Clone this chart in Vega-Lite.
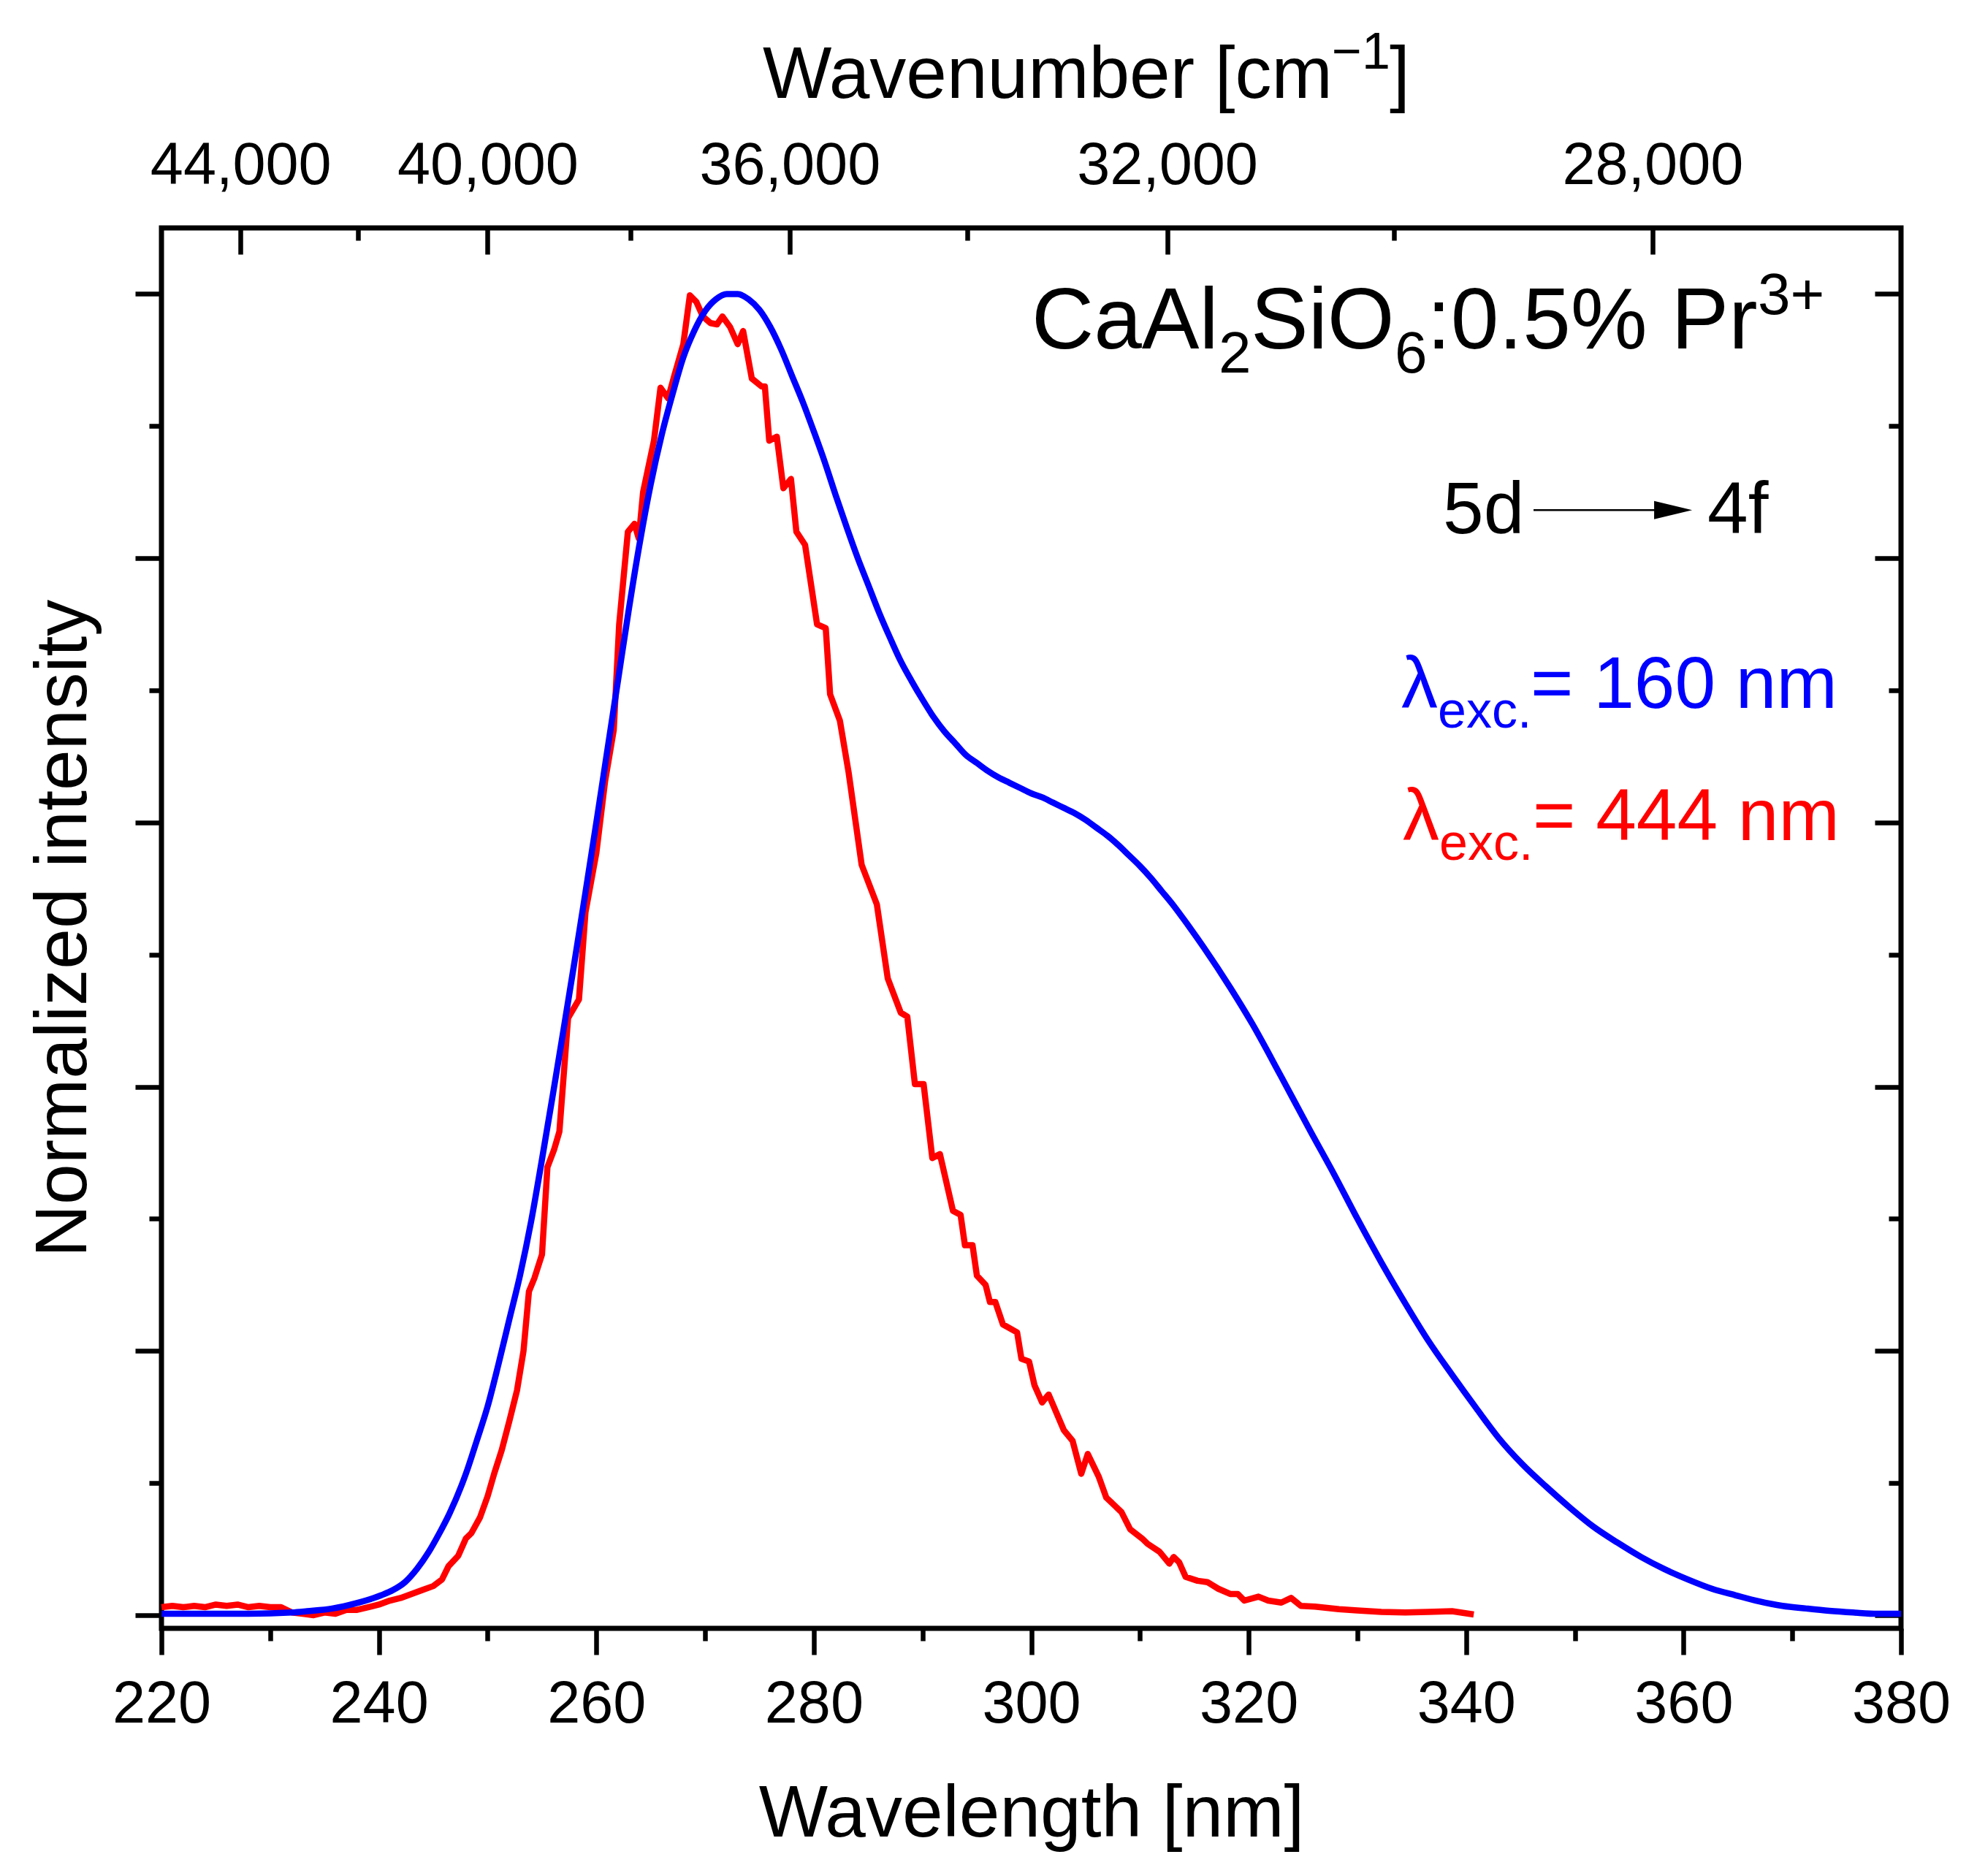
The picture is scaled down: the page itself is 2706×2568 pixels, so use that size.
{
  "$schema": "https://vega.github.io/schema/vega-lite/v6.json",
  "width": 2381,
  "height": 1917,
  "autosize": {"type": "none"},
  "padding": {"left": 221, "top": 312, "right": 104, "bottom": 339},
  "background": "white",
  "datasets": {
    "exc444": [
      {"nm": 220, "I": 0.006}, {"nm": 221, "I": 0.007}, {"nm": 222, "I": 0.006}, {"nm": 223, "I": 0.007},
      {"nm": 224, "I": 0.006}, {"nm": 225, "I": 0.008}, {"nm": 226, "I": 0.007}, {"nm": 227, "I": 0.008},
      {"nm": 228, "I": 0.006}, {"nm": 229, "I": 0.007}, {"nm": 230, "I": 0.006}, {"nm": 231, "I": 0.006},
      {"nm": 232, "I": 0.002}, {"nm": 233, "I": 0.001}, {"nm": 234, "I": 0.0}, {"nm": 235, "I": 0.002},
      {"nm": 236, "I": 0.001}, {"nm": 237, "I": 0.004}, {"nm": 238, "I": 0.004}, {"nm": 239, "I": 0.006},
      {"nm": 240, "I": 0.008}, {"nm": 241, "I": 0.011}, {"nm": 242, "I": 0.013}, {"nm": 243, "I": 0.016},
      {"nm": 244, "I": 0.019}, {"nm": 245, "I": 0.022}, {"nm": 245.8, "I": 0.027}, {"nm": 246.4, "I": 0.037},
      {"nm": 247.3, "I": 0.045}, {"nm": 248, "I": 0.058}, {"nm": 248.5, "I": 0.062}, {"nm": 249.3, "I": 0.074},
      {"nm": 250, "I": 0.09}, {"nm": 250.6, "I": 0.107}, {"nm": 251.3, "I": 0.125}, {"nm": 252, "I": 0.147},
      {"nm": 252.7, "I": 0.17}, {"nm": 253.3, "I": 0.2}, {"nm": 253.8, "I": 0.245}, {"nm": 254.3, "I": 0.255},
      {"nm": 255, "I": 0.273}, {"nm": 255.5, "I": 0.339}, {"nm": 256.1, "I": 0.352}, {"nm": 256.6, "I": 0.366},
      {"nm": 257.4, "I": 0.452}, {"nm": 258.4, "I": 0.466}, {"nm": 259, "I": 0.532}, {"nm": 260, "I": 0.577},
      {"nm": 260.8, "I": 0.631}, {"nm": 261.6, "I": 0.67}, {"nm": 262.1, "I": 0.75}, {"nm": 262.9, "I": 0.82},
      {"nm": 263.5, "I": 0.826}, {"nm": 263.9, "I": 0.815}, {"nm": 264.3, "I": 0.85}, {"nm": 265.3, "I": 0.889},
      {"nm": 265.9, "I": 0.929}, {"nm": 266.6, "I": 0.921}, {"nm": 267.2, "I": 0.939}, {"nm": 268, "I": 0.962},
      {"nm": 268.6, "I": 0.999}, {"nm": 269.2, "I": 0.994}, {"nm": 269.8, "I": 0.983}, {"nm": 270.5, "I": 0.978},
      {"nm": 271.1, "I": 0.977}, {"nm": 271.6, "I": 0.983}, {"nm": 272.3, "I": 0.975}, {"nm": 273, "I": 0.962},
      {"nm": 273.5, "I": 0.972}, {"nm": 274.3, "I": 0.936}, {"nm": 275.2, "I": 0.93}, {"nm": 275.5, "I": 0.93},
      {"nm": 275.9, "I": 0.889}, {"nm": 276.6, "I": 0.892}, {"nm": 277.2, "I": 0.853}, {"nm": 277.9, "I": 0.86},
      {"nm": 278.4, "I": 0.82}, {"nm": 279.2, "I": 0.81}, {"nm": 280.3, "I": 0.75}, {"nm": 281.1, "I": 0.747},
      {"nm": 281.5, "I": 0.697}, {"nm": 282.4, "I": 0.677}, {"nm": 283.2, "I": 0.638}, {"nm": 284.4, "I": 0.568},
      {"nm": 285.8, "I": 0.538}, {"nm": 286.8, "I": 0.482}, {"nm": 288.0, "I": 0.456}, {"nm": 288.6, "I": 0.453},
      {"nm": 289.3, "I": 0.402}, {"nm": 290.1, "I": 0.402}, {"nm": 290.9, "I": 0.346}, {"nm": 291.6, "I": 0.349},
      {"nm": 292.8, "I": 0.306}, {"nm": 293.5, "I": 0.303}, {"nm": 293.9, "I": 0.28}, {"nm": 294.6, "I": 0.28},
      {"nm": 295.0, "I": 0.257}, {"nm": 295.8, "I": 0.25}, {"nm": 296.2, "I": 0.237}, {"nm": 296.7, "I": 0.237},
      {"nm": 297.4, "I": 0.22}, {"nm": 298.7, "I": 0.214}, {"nm": 299.1, "I": 0.194}, {"nm": 299.8, "I": 0.192},
      {"nm": 300.3, "I": 0.174}, {"nm": 301.0, "I": 0.161}, {"nm": 301.6, "I": 0.167}, {"nm": 303.0, "I": 0.14},
      {"nm": 303.8, "I": 0.132}, {"nm": 304.6, "I": 0.107}, {"nm": 305.2, "I": 0.122}, {"nm": 306.2, "I": 0.105},
      {"nm": 306.9, "I": 0.089}, {"nm": 308.3, "I": 0.078}, {"nm": 309.1, "I": 0.065}, {"nm": 310.2, "I": 0.058},
      {"nm": 310.7, "I": 0.054}, {"nm": 311.8, "I": 0.048}, {"nm": 312.7, "I": 0.039}, {"nm": 313.1, "I": 0.044},
      {"nm": 313.6, "I": 0.04}, {"nm": 314.2, "I": 0.029}, {"nm": 315.3, "I": 0.026}, {"nm": 316.2, "I": 0.025},
      {"nm": 317.2, "I": 0.02}, {"nm": 318.3, "I": 0.016}, {"nm": 319.0, "I": 0.016}, {"nm": 319.6, "I": 0.011},
      {"nm": 320.9, "I": 0.014}, {"nm": 321.8, "I": 0.011}, {"nm": 323.0, "I": 0.0095}, {"nm": 323.9, "I": 0.013},
      {"nm": 324.8, "I": 0.007}, {"nm": 326.1, "I": 0.0065}, {"nm": 328.3, "I": 0.0045}, {"nm": 330, "I": 0.0035},
      {"nm": 332.2, "I": 0.0025}, {"nm": 334.4, "I": 0.002}, {"nm": 336.5, "I": 0.0025}, {"nm": 338.7, "I": 0.003},
      {"nm": 340.7, "I": 0.0005}
    ],
    "exc160": [
      {"nm": 220, "I": 0.001}, {"nm": 224, "I": 0.001}, {"nm": 228, "I": 0.001}, {"nm": 232, "I": 0.002},
      {"nm": 233.4, "I": 0.003}, {"nm": 235.7, "I": 0.005}, {"nm": 237.9, "I": 0.009}, {"nm": 240.2, "I": 0.015},
      {"nm": 241.3, "I": 0.019}, {"nm": 242.4, "I": 0.025}, {"nm": 243.5, "I": 0.035}, {"nm": 244.6, "I": 0.048},
      {"nm": 245.5, "I": 0.061}, {"nm": 246.5, "I": 0.077}, {"nm": 248, "I": 0.107}, {"nm": 249, "I": 0.132},
      {"nm": 250, "I": 0.158}, {"nm": 251, "I": 0.19}, {"nm": 252, "I": 0.224}, {"nm": 253, "I": 0.258},
      {"nm": 254, "I": 0.298}, {"nm": 255, "I": 0.345}, {"nm": 256, "I": 0.394}, {"nm": 257, "I": 0.444},
      {"nm": 258, "I": 0.495}, {"nm": 259, "I": 0.547}, {"nm": 260, "I": 0.6}, {"nm": 261, "I": 0.654},
      {"nm": 262, "I": 0.708}, {"nm": 263, "I": 0.762}, {"nm": 264, "I": 0.812}, {"nm": 265, "I": 0.856},
      {"nm": 266, "I": 0.893}, {"nm": 267, "I": 0.924}, {"nm": 268, "I": 0.952}, {"nm": 269, "I": 0.972},
      {"nm": 270, "I": 0.987}, {"nm": 271, "I": 0.996}, {"nm": 272, "I": 1.0}, {"nm": 273, "I": 1.0},
      {"nm": 274, "I": 0.996}, {"nm": 275, "I": 0.988}, {"nm": 276, "I": 0.975}, {"nm": 277, "I": 0.958},
      {"nm": 278, "I": 0.938}, {"nm": 279, "I": 0.918}, {"nm": 280, "I": 0.896}, {"nm": 281, "I": 0.873},
      {"nm": 282, "I": 0.848}, {"nm": 283, "I": 0.824}, {"nm": 284, "I": 0.801}, {"nm": 285, "I": 0.78},
      {"nm": 286, "I": 0.759}, {"nm": 287, "I": 0.74}, {"nm": 288, "I": 0.722}, {"nm": 289, "I": 0.707},
      {"nm": 290, "I": 0.693}, {"nm": 291, "I": 0.68}, {"nm": 292, "I": 0.669}, {"nm": 293, "I": 0.66},
      {"nm": 294, "I": 0.651}, {"nm": 295, "I": 0.645}, {"nm": 296, "I": 0.639}, {"nm": 297, "I": 0.634},
      {"nm": 298, "I": 0.63}, {"nm": 299, "I": 0.626}, {"nm": 300, "I": 0.622}, {"nm": 301, "I": 0.619},
      {"nm": 302, "I": 0.615}, {"nm": 303, "I": 0.611}, {"nm": 304, "I": 0.607}, {"nm": 305, "I": 0.602},
      {"nm": 306, "I": 0.596}, {"nm": 307, "I": 0.59}, {"nm": 308, "I": 0.583}, {"nm": 309, "I": 0.575},
      {"nm": 310, "I": 0.567}, {"nm": 311, "I": 0.558}, {"nm": 312, "I": 0.548}, {"nm": 313, "I": 0.538},
      {"nm": 314, "I": 0.527}, {"nm": 315.9, "I": 0.505}, {"nm": 318.3, "I": 0.475}, {"nm": 320.3, "I": 0.448},
      {"nm": 322.9, "I": 0.409},
      {"nm": 325.7, "I": 0.366}, {"nm": 327.9, "I": 0.333}, {"nm": 330, "I": 0.3}, {"nm": 332.2, "I": 0.267},
      {"nm": 334.4, "I": 0.236}, {"nm": 336.5, "I": 0.208}, {"nm": 338.7, "I": 0.182}, {"nm": 340.9, "I": 0.157},
      {"nm": 343, "I": 0.134}, {"nm": 345.2, "I": 0.114}, {"nm": 347.4, "I": 0.097}, {"nm": 349.6, "I": 0.081},
      {"nm": 351.7, "I": 0.067}, {"nm": 353.9, "I": 0.055}, {"nm": 356.1, "I": 0.044}, {"nm": 358.2, "I": 0.035},
      {"nm": 360.4, "I": 0.027}, {"nm": 362.6, "I": 0.02}, {"nm": 364.8, "I": 0.015}, {"nm": 366.9, "I": 0.0105},
      {"nm": 369.1, "I": 0.007}, {"nm": 371.3, "I": 0.005}, {"nm": 373.4, "I": 0.0033}, {"nm": 375.6, "I": 0.002},
      {"nm": 377.8, "I": 0.001}, {"nm": 380, "I": 0.001}
    ]
  },
  "resolve": {"axis": {"x": "independent", "y": "independent"}},
  "layer": [
    {
      "data": {"name": "exc444"},
      "mark": {"type": "line", "color": "#ff0000", "strokeWidth": 8.5, "strokeJoin": "round"},
      "encoding": {
        "x": {
          "field": "nm", "type": "quantitative",
          "scale": {"domain": [220, 380], "nice": false, "zero": false},
          "axis": {
            "orient": "bottom",
            "values": [220, 230, 240, 250, 260, 270, 280, 290, 300, 310, 320, 330, 340, 350, 360, 370, 380],
            "labelExpr": "datum.value % 20 === 0 ? datum.label : ''",
            "tickSize": {"condition": {"test": "datum.value % 20 === 0", "value": 36}, "value": 17},
            "labelPadding": 28,
            "labelFlush": false, "labelOverlap": false, "labelBound": false, "labelLimit": 1000,
            "title": "Wavelength [nm]",
            "titleX": 1190.5, "titleY": 284, "titleBaseline": "alphabetic", "titleAlign": "center"
          }
        },
        "y": {
          "field": "I", "type": "quantitative",
          "scale": {"domain": [-0.01, 1.05], "nice": false, "zero": false},
          "axis": {
            "orient": "left",
            "values": [0, 0.1, 0.2, 0.3, 0.4, 0.5, 0.6, 0.7, 0.8, 0.9, 1.0],
            "labels": false,
            "tickSize": {"condition": {"test": "round(datum.value * 10) % 2 === 0", "value": 36}, "value": 17},
            "title": "Normalized intensity",
            "titleX": -104, "titleY": 958.5, "titleAngle": -90, "titleBaseline": "alphabetic", "titleAlign": "center"
          }
        }
      }
    },
    {
      "data": {"name": "exc160"},
      "mark": {"type": "line", "color": "#0000ff", "strokeWidth": 8.5, "strokeJoin": "round", "interpolate": "monotone"},
      "encoding": {
        "x": {
          "field": "nm", "type": "quantitative",
          "axis": {
            "orient": "top",
            "values": [227.2727, 238.0952, 250, 263.1579, 277.7778, 294.1176, 312.5, 333.3333, 357.1429],
            "labelExpr": "round(1e7 / datum.value / 1000) % 4 === 0 ? format(round(1e7 / datum.value / 1000) * 1000, ',') : ''",
            "tickSize": {"condition": {"test": "round(1e7 / datum.value / 1000) % 4 === 0", "value": -36}, "value": -17},
            "labelPadding": 80,
            "labelFlush": false, "labelOverlap": false, "labelBound": false, "labelLimit": 1000,
            "title": null
          }
        },
        "y": {
          "field": "I", "type": "quantitative",
          "axis": {
            "orient": "right",
            "values": [0, 0.1, 0.2, 0.3, 0.4, 0.5, 0.6, 0.7, 0.8, 0.9, 1.0],
            "labels": false,
            "tickSize": {"condition": {"test": "round(datum.value * 10) % 2 === 0", "value": -36}, "value": -17},
            "title": null
          }
        }
      }
    },
    {
      "data": {"values": [{}]},
      "mark": {"type": "text", "text": "Wavenumber [cm", "fontSize": 100, "align": "left", "baseline": "alphabetic", "color": "black"},
      "encoding": {"x": {"datum": 275.306, "type": "quantitative", "axis": null}, "y": {"datum": 1.1487, "type": "quantitative", "axis": null}}
    },
    {
      "data": {"values": [{}]},
      "mark": {"type": "text", "text": "−1", "fontSize": 70, "align": "left", "baseline": "alphabetic", "dx": 779, "dy": -40, "color": "black"},
      "encoding": {"x": {"datum": 275.306, "type": "quantitative", "axis": null}, "y": {"datum": 1.1487, "type": "quantitative", "axis": null}}
    },
    {
      "data": {"values": [{}]},
      "mark": {"type": "text", "text": "]", "fontSize": 100, "align": "left", "baseline": "alphabetic", "dx": 858, "color": "black"},
      "encoding": {"x": {"datum": 275.306, "type": "quantitative", "axis": null}, "y": {"datum": 1.1487, "type": "quantitative", "axis": null}}
    },
    {
      "data": {"values": [{}]},
      "mark": {"type": "text", "text": "CaAl", "fontSize": 118, "align": "left", "baseline": "alphabetic", "color": "black"},
      "encoding": {"x": {"datum": 300.03, "type": "quantitative", "axis": null}, "y": {"datum": 0.9585, "type": "quantitative", "axis": null}}
    },
    {
      "data": {"values": [{}]},
      "mark": {"type": "text", "text": "2", "fontSize": 80, "align": "left", "baseline": "alphabetic", "dx": 256, "dy": 33, "color": "black"},
      "encoding": {"x": {"datum": 300.03, "type": "quantitative", "axis": null}, "y": {"datum": 0.9585, "type": "quantitative", "axis": null}}
    },
    {
      "data": {"values": [{}]},
      "mark": {"type": "text", "text": "SiO", "fontSize": 118, "align": "left", "baseline": "alphabetic", "dx": 300, "color": "black"},
      "encoding": {"x": {"datum": 300.03, "type": "quantitative", "axis": null}, "y": {"datum": 0.9585, "type": "quantitative", "axis": null}}
    },
    {
      "data": {"values": [{}]},
      "mark": {"type": "text", "text": "6", "fontSize": 80, "align": "left", "baseline": "alphabetic", "dx": 497, "dy": 33, "color": "black"},
      "encoding": {"x": {"datum": 300.03, "type": "quantitative", "axis": null}, "y": {"datum": 0.9585, "type": "quantitative", "axis": null}}
    },
    {
      "data": {"values": [{}]},
      "mark": {"type": "text", "text": ":0.5% Pr", "fontSize": 118, "align": "left", "baseline": "alphabetic", "dx": 541, "color": "black"},
      "encoding": {"x": {"datum": 300.03, "type": "quantitative", "axis": null}, "y": {"datum": 0.9585, "type": "quantitative", "axis": null}}
    },
    {
      "data": {"values": [{}]},
      "mark": {"type": "text", "text": "3+", "fontSize": 80, "align": "left", "baseline": "alphabetic", "dx": 994, "dy": -47, "color": "black"},
      "encoding": {"x": {"datum": 300.03, "type": "quantitative", "axis": null}, "y": {"datum": 0.9585, "type": "quantitative", "axis": null}}
    },
    {
      "data": {"values": [{}]},
      "mark": {"type": "text", "text": "5d", "fontSize": 100, "align": "left", "baseline": "alphabetic", "color": "black"},
      "encoding": {"x": {"datum": 337.87, "type": "quantitative", "axis": null}, "y": {"datum": 0.8187, "type": "quantitative", "axis": null}}
    },
    {
      "data": {"values": [{}]},
      "mark": {"type": "text", "text": "4f", "fontSize": 100, "align": "left", "baseline": "alphabetic", "dx": 362, "color": "black"},
      "encoding": {"x": {"datum": 337.87, "type": "quantitative", "axis": null}, "y": {"datum": 0.8187, "type": "quantitative", "axis": null}}
    },
    {
      "data": {"values": [{}]},
      "mark": {"type": "rule", "color": "black", "strokeWidth": 2.5},
      "encoding": {
        "x": {"datum": 346.2, "type": "quantitative", "axis": null},
        "x2": {"datum": 357.69},
        "y": {"datum": 0.8364, "type": "quantitative", "axis": null}
      }
    },
    {
      "data": {"values": [{}]},
      "mark": {"type": "point", "shape": "M -1 -0.48 L 1 0 L -1 0.48 Z", "size": 2704, "filled": true, "color": "black", "opacity": 1, "strokeWidth": 0},
      "encoding": {"x": {"datum": 359.04, "type": "quantitative", "axis": null}, "y": {"datum": 0.8364, "type": "quantitative", "axis": null}}
    },
    {
      "data": {"values": [{}]},
      "mark": {"type": "text", "text": "λ", "fontSize": 100, "align": "left", "baseline": "alphabetic", "color": "#0000ff"},
      "encoding": {"x": {"datum": 334.04, "type": "quantitative", "axis": null}, "y": {"datum": 0.6866, "type": "quantitative", "axis": null}}
    },
    {
      "data": {"values": [{}]},
      "mark": {"type": "text", "text": "exc.", "fontSize": 70, "align": "left", "baseline": "alphabetic", "dx": 50, "dy": 27, "color": "#0000ff"},
      "encoding": {"x": {"datum": 334.04, "type": "quantitative", "axis": null}, "y": {"datum": 0.6866, "type": "quantitative", "axis": null}}
    },
    {
      "data": {"values": [{}]},
      "mark": {"type": "text", "text": "= 160 nm", "fontSize": 100, "align": "left", "baseline": "alphabetic", "dx": 177, "color": "#0000ff"},
      "encoding": {"x": {"datum": 334.04, "type": "quantitative", "axis": null}, "y": {"datum": 0.6866, "type": "quantitative", "axis": null}}
    },
    {
      "data": {"values": [{}]},
      "mark": {"type": "text", "text": "λ", "fontSize": 100, "align": "left", "baseline": "alphabetic", "color": "#ff0000"},
      "encoding": {"x": {"datum": 334.17, "type": "quantitative", "axis": null}, "y": {"datum": 0.5865, "type": "quantitative", "axis": null}}
    },
    {
      "data": {"values": [{}]},
      "mark": {"type": "text", "text": "exc.", "fontSize": 70, "align": "left", "baseline": "alphabetic", "dx": 50, "dy": 27, "color": "#ff0000"},
      "encoding": {"x": {"datum": 334.17, "type": "quantitative", "axis": null}, "y": {"datum": 0.5865, "type": "quantitative", "axis": null}}
    },
    {
      "data": {"values": [{}]},
      "mark": {"type": "text", "text": "= 444 nm", "fontSize": 100, "align": "left", "baseline": "alphabetic", "dx": 178, "color": "#ff0000"},
      "encoding": {"x": {"datum": 334.17, "type": "quantitative", "axis": null}, "y": {"datum": 0.5865, "type": "quantitative", "axis": null}}
    }
  ],
  "config": {
    "font": "Liberation Sans",
    "view": {"stroke": "#000000", "strokeWidth": 7},
    "text": {"font": "Liberation Sans"},
    "axis": {
      "grid": false,
      "domain": false,
      "ticks": true,
      "tickColor": "#000000",
      "tickWidth": 6.5,
      "labelFont": "Liberation Sans",
      "labelFontSize": 81,
      "labelColor": "#000000",
      "labelLimit": 1000,
      "titleFont": "Liberation Sans",
      "titleFontSize": 100,
      "titleFontWeight": "normal",
      "titleColor": "#000000"
    }
  }
}
